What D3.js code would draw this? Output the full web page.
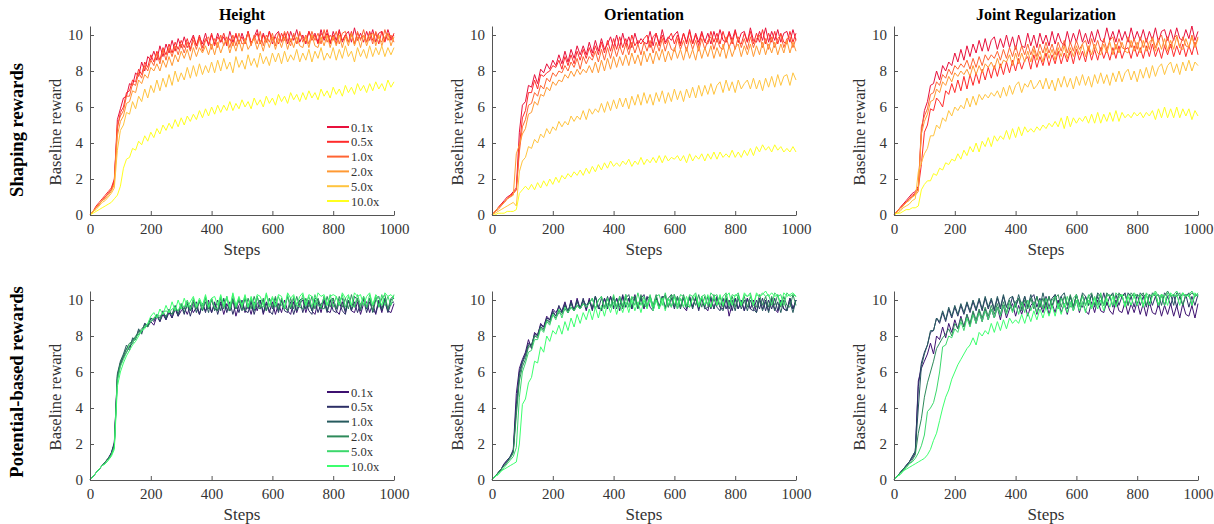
<!DOCTYPE html>
<html>
<head>
<meta charset="utf-8">
<script src="https://cdn.jsdelivr.net/npm/d3@7"></script>
<style>
	body { margin: 0; background: #fff; }
	svg text { font-family: "Liberation Serif", "Times New Roman", serif; }
	.axis path, .axis line { stroke: #555; }
	.axis text { fill: #333; font-size: 15px; font-family: "Liberation Serif", "Times New Roman", serif; }
</style>
</head>
<body>
<svg id="chart-area" width="1214" height="524"></svg>
<script>

// x values: one reading every 10 steps
let steps = d3.range(0, 1001, 10);

let scaleLabels = ["0.1x", "0.5x", "1.0x", "2.0x", "5.0x", "10.0x"];
let panelTitles = ["Height", "Orientation", "Joint Regularization"];
let rowTitles = ["Shaping rewards", "Potential-based rewards"];
let xTicks = [0, 200, 400, 600, 800, 1000];
let yTicks = [0, 2, 4, 6, 8, 10];

let shapingColors = ["#e8103c", "#ff2b2b", "#ff6433", "#ff9933", "#ffc43f", "#ffff1f"];
let potentialColors = ["#3d1070", "#2c2f66", "#265a5e", "#2e8a5a", "#3cd86c", "#3cff6e"];

// Shaping rewards, Height (0.1x ... 10.0x)
let heightShaping = [
[0,0.2,0.4,0.6,0.8,1.0,1.2,1.4,1.9,5.3,5.9,
6.5,6.6,7.3,7.2,7.9,7.7,8.5,8.0,8.8,8.6,
9.1,8.6,9.4,8.8,9.5,9.0,9.7,9.1,9.8,9.3,
9.9,9.3,9.6,10.0,9.4,9.9,9.5,10.1,9.4,10.0,
9.5,10.1,9.6,9.9,9.4,10.2,9.6,10.0,9.5,10.1,
9.6,10.2,9.5,9.9,10.3,9.5,10.1,9.6,10.2,9.5,
10.0,10.2,9.6,10.1,9.5,10.2,9.7,10.3,9.6,10.0,
9.5,10.2,9.8,10.1,9.6,10.3,9.7,10.1,9.5,10.2,
9.7,10.3,9.6,10.0,10.2,9.6,10.4,9.7,10.1,9.6,
10.2,9.7,10.3,9.6,10.1,10.2,9.7,10.3,9.8,10.0],
[0,0.2,0.5,0.7,0.9,1.1,1.3,1.5,2.0,4.8,5.7,
6.0,6.8,6.9,7.5,7.4,8.1,7.8,8.5,8.2,8.9,
8.5,9.1,8.6,9.3,8.9,9.5,9.0,9.6,9.2,9.7,
9.3,9.8,9.2,9.9,9.4,10.0,9.3,9.8,9.5,10.1,
9.4,9.9,9.6,10.1,9.5,9.8,9.4,10.1,9.6,9.9,
9.5,10.2,9.6,9.8,10.1,9.5,10.0,9.6,10.2,9.7,
9.9,9.5,10.1,9.7,10.2,9.6,10.0,9.5,10.1,9.8,
9.6,10.2,9.7,10.0,9.5,10.1,9.8,10.3,9.6,10.0,
9.5,10.2,9.7,10.0,9.6,10.2,9.5,10.1,9.8,10.0,
9.6,10.2,9.7,10.1,9.5,10.2,9.6,10.1,9.7,10.1],
[0,0.2,0.4,0.6,0.8,1.0,1.2,1.4,1.8,5.0,5.5,
5.8,6.6,6.6,7.3,7.2,7.9,7.6,8.3,8.0,8.6,
8.3,9.0,8.4,9.2,8.6,9.3,8.8,9.4,8.9,9.5,
9.0,9.6,9.1,9.7,9.2,9.8,9.1,9.7,9.9,9.2,
9.8,9.3,10.0,9.4,9.9,9.3,10.0,9.4,10.1,9.5,
9.6,10.1,9.4,10.0,9.5,10.2,9.4,10.0,9.6,10.1,
9.4,10.1,9.6,10.2,9.7,9.4,10.1,9.5,10.2,9.6,
10.0,9.5,10.2,9.7,10.1,9.5,10.3,9.6,10.0,9.7,
10.2,9.5,10.1,10.2,9.6,10.0,9.5,10.2,9.7,10.3,
9.6,10.1,9.5,10.2,9.8,9.6,10.3,9.7,10.0,9.6],
[0,0.2,0.4,0.6,0.8,0.9,1.1,1.3,1.7,4.4,5.2,
5.5,6.2,6.3,6.9,6.8,7.5,7.3,7.8,7.6,8.2,
8.0,8.4,8.0,8.6,8.2,8.8,8.3,8.9,8.5,9.1,
8.7,9.2,8.6,9.3,8.8,9.3,9.0,9.4,8.9,9.5,
8.9,9.6,9.0,9.5,9.7,9.0,9.6,9.1,9.7,9.1,
9.8,9.2,9.5,9.8,9.2,9.7,9.1,9.8,9.3,9.9,
9.2,9.8,9.3,9.9,9.2,9.8,9.3,9.9,9.4,9.3,
9.9,9.3,10.0,9.4,9.3,9.9,9.4,10.0,9.3,9.9,
9.4,10.0,9.3,9.9,9.4,10.1,9.4,9.9,9.3,10.0,
9.4,9.9,10.1,9.4,10.0,9.4,9.9,10.1,9.4,9.9],
[0,0.2,0.3,0.5,0.7,0.8,1.0,1.2,1.5,3.6,4.7,
5.0,5.7,5.6,6.3,5.9,6.6,6.3,7.0,6.5,7.2,
6.8,7.5,6.9,7.6,7.1,7.8,7.2,8.0,7.4,7.9,
7.5,8.2,7.6,8.3,7.7,8.4,7.8,8.3,7.9,8.5,
7.9,8.6,8.0,8.7,8.1,8.5,7.9,8.8,8.2,8.6,
8.1,8.9,8.3,8.7,8.2,9.0,8.4,8.8,8.3,9.0,
8.5,9.0,8.4,9.1,8.5,8.9,8.6,9.2,8.5,9.0,
8.6,9.2,8.5,9.1,8.7,9.3,8.6,9.0,8.7,9.3,
8.6,9.2,8.7,9.4,8.8,9.1,8.5,9.3,8.8,9.2,
8.7,9.4,8.8,9.3,8.9,9.4,8.8,9.3,8.9,9.3],
[0,0.1,0.2,0.3,0.4,0.5,0.6,0.7,0.9,1.1,1.6,
2.6,3.1,3.2,3.7,3.6,4.1,3.9,4.4,4.1,4.6,
4.3,4.8,4.5,5.0,4.7,5.1,4.8,5.3,4.9,5.4,
5.0,5.5,5.2,5.6,5.3,5.8,5.4,5.9,5.5,6.0,
5.6,6.1,5.7,6.1,5.8,6.3,5.8,6.2,5.9,6.4,
6.0,6.3,5.9,6.5,6.1,6.4,6.0,6.6,6.2,6.5,
6.1,6.7,6.3,6.6,6.2,6.8,6.4,6.7,6.3,6.8,
6.4,6.9,6.5,6.8,6.4,7.0,6.6,6.9,6.5,7.1,
6.7,7.0,6.6,7.2,6.8,7.1,6.7,7.3,6.9,7.2,
6.8,7.3,6.9,7.4,7.0,7.3,6.9,7.5,7.1,7.4]
];

// Shaping rewards, Orientation
let orientationShaping = [
[0,0.2,0.4,0.6,0.8,1.0,1.1,1.3,1.5,4.6,6.1,
6.3,7.2,7.1,7.8,7.3,8.1,7.9,8.4,8.1,8.6,
8.3,8.9,8.4,9.1,8.5,9.2,8.7,9.4,8.9,9.4,
8.9,9.6,9.0,9.7,9.1,9.8,9.2,9.5,9.9,9.3,
10.0,9.3,10.1,9.4,9.9,9.3,10.1,9.5,9.8,9.6,
9.5,10.2,9.4,10.1,9.5,10.3,9.6,9.9,9.7,10.0,
10.2,9.5,10.1,9.6,10.3,9.5,10.1,9.6,10.2,9.6,
10.1,9.5,10.2,9.6,10.3,9.7,9.6,10.2,9.7,10.3,
9.6,10.1,10.2,9.6,10.4,9.7,9.6,10.2,9.7,10.4,
9.6,10.2,9.7,10.3,9.6,10.1,10.2,9.6,10.3,9.7],
[0,0.2,0.4,0.6,0.7,0.9,1.1,1.2,1.4,3.8,5.4,
5.8,6.8,6.8,7.5,7.0,7.8,7.7,7.9,8.0,8.3,
8.2,8.6,8.1,8.8,8.3,8.9,8.4,9.1,8.6,9.2,
8.7,9.3,8.8,9.4,8.9,9.6,9.0,9.7,9.1,9.8,
9.2,9.9,9.3,9.8,9.2,10.0,9.4,9.7,9.5,9.8,
10.0,9.3,9.9,10.1,9.4,10.0,9.5,9.8,10.1,9.5,
10.0,9.4,10.1,9.5,10.2,9.5,10.0,9.4,10.1,9.6,
9.5,10.2,9.6,10.1,9.5,10.2,9.6,10.1,9.5,10.2,
9.6,9.5,10.1,9.6,10.2,9.5,10.1,9.6,10.3,9.5,
10.1,9.6,10.2,9.5,10.1,9.6,9.5,10.2,9.6,10.1],
[0,0.2,0.3,0.5,0.7,0.9,1.0,1.2,1.4,3.5,4.9,
5.3,6.1,6.2,6.8,6.6,7.2,7.0,7.6,7.4,7.9,
7.7,8.0,7.9,8.3,8.0,8.5,8.2,8.7,8.1,8.8,
8.4,8.8,8.6,9.1,8.5,9.2,8.6,9.3,8.7,9.4,
8.8,9.4,8.9,9.5,8.9,9.6,9.0,9.5,8.9,9.6,
9.1,9.7,9.0,9.6,9.1,9.8,9.1,9.7,9.2,9.1,
9.8,9.2,9.7,9.1,9.8,9.2,9.7,9.1,9.8,9.2,
9.7,9.9,9.2,9.8,9.3,9.2,9.9,9.3,9.8,9.2,
9.9,9.3,9.8,9.2,9.9,9.3,9.8,10.0,9.3,9.8,
9.2,9.9,9.3,9.8,10.0,9.3,9.8,9.9,9.3,9.8],
[0,0.2,0.4,0.5,0.7,0.9,1.0,1.1,3.4,3.9,4.5,
4.8,5.6,5.7,6.3,6.1,6.7,6.6,7.1,6.9,7.4,
7.2,7.5,7.4,7.8,7.6,8.0,7.7,8.1,7.8,8.1,
7.9,8.3,7.9,8.5,7.9,8.6,8.0,8.7,8.1,8.8,
8.2,8.8,8.3,8.9,8.3,9.0,8.4,8.9,8.3,9.1,
8.5,9.0,8.4,9.1,8.6,9.2,8.5,9.1,8.6,9.3,
8.7,9.2,8.6,9.3,8.7,9.2,8.6,9.4,8.7,9.3,
8.8,9.4,8.7,9.3,8.8,9.5,8.7,9.4,8.8,9.3,
9.5,8.8,9.4,8.9,9.5,8.8,9.4,8.9,9.6,8.9,
9.5,9.0,9.6,8.9,9.5,9.0,9.7,9.0,9.6,9.1],
[0,0.1,0.2,0.3,0.4,0.5,0.6,0.7,0.5,2.4,3.0,
3.2,3.8,3.7,4.2,4.0,4.5,4.3,4.8,4.5,4.9,
4.7,5.2,4.9,5.2,5.0,5.5,5.2,5.5,5.3,5.8,
5.3,5.9,5.6,5.9,5.7,6.2,5.7,6.3,5.8,6.4,
5.9,6.5,6.0,6.5,5.9,6.6,6.1,6.7,6.1,6.8,
6.2,6.7,6.1,6.8,6.3,6.9,6.2,6.8,6.3,7.0,
6.4,6.9,6.3,7.0,6.5,7.1,6.5,7.2,6.6,7.2,
6.7,7.3,6.7,7.2,7.4,6.8,7.5,6.9,7.4,6.8,
7.5,7.0,7.3,7.5,7.0,7.6,7.0,7.5,6.9,7.6,
7.1,7.7,7.1,7.8,7.2,7.7,7.8,7.2,7.9,7.5],
[0,0.0,0.1,0.1,0.1,0.2,0.2,0.2,0.3,1.2,1.4,
1.6,1.4,1.7,1.4,1.8,1.5,1.9,1.6,2.0,1.7,
2.1,1.8,2.2,2.0,2.3,2.1,2.4,2.2,2.5,2.2,
2.6,2.3,2.7,2.4,2.8,2.5,2.9,2.6,3.0,2.7,
2.9,2.7,3.0,2.8,3.1,2.7,3.0,2.8,3.2,2.8,
3.1,2.9,3.2,2.9,3.3,2.9,3.3,3.0,3.2,3.1,
3.3,3.0,3.3,2.9,3.4,3.0,3.3,3.1,3.4,3.0,
3.4,3.1,3.5,3.1,3.5,3.2,3.4,3.2,3.6,3.2,
3.5,3.2,3.6,3.3,3.7,3.3,3.8,3.5,3.9,3.6,
3.8,3.5,3.9,3.6,3.8,3.5,3.7,3.5,3.8,3.5]
];

// Shaping rewards, Joint Regularization
let jointShaping = [
[0,0.2,0.4,0.6,0.8,1.0,1.2,1.3,1.6,4.6,5.8,
6.3,7.2,7.3,8.0,7.5,8.3,8.0,8.5,8.3,9.0,
8.5,9.2,8.6,9.4,8.8,9.5,9.0,9.7,9.1,9.8,
9.1,9.7,9.9,9.2,9.8,9.3,10.0,9.3,9.9,9.2,
10.0,9.4,9.3,10.1,9.4,10.0,9.3,10.1,9.5,10.0,
9.4,10.2,9.5,10.1,9.6,9.4,10.2,9.5,10.1,9.6,
10.3,9.6,10.1,9.5,10.2,9.6,10.3,9.7,9.6,10.4,
9.7,10.2,9.6,10.3,9.7,10.2,9.6,10.4,9.7,10.2,
9.7,10.3,9.6,10.2,9.7,10.4,9.6,10.2,10.3,9.7,
10.3,9.7,10.4,9.8,9.7,10.3,9.8,10.5,9.7,10.2],
[0,0.2,0.4,0.6,0.7,0.9,1.1,1.2,1.5,2.8,4.6,
5.0,5.9,5.8,6.5,6.3,6.0,6.9,6.7,7.3,6.8,
7.5,6.9,7.7,7.0,7.8,7.2,7.9,7.3,8.1,7.5,
8.2,7.6,8.3,7.7,8.4,7.8,8.5,7.9,8.6,8.0,
8.7,8.1,8.6,8.8,8.1,8.9,8.2,8.8,8.3,9.0,
8.3,8.9,8.4,9.1,8.4,9.0,8.5,9.1,8.4,9.2,
8.6,9.1,8.5,9.3,8.6,9.2,8.6,9.3,8.7,9.2,
8.6,9.3,8.7,9.4,8.7,9.2,9.3,8.7,9.4,8.8,
9.3,8.7,9.4,8.8,9.5,8.8,9.3,8.7,9.4,8.9,
9.5,8.8,9.4,8.9,9.5,8.8,9.4,8.9,9.6,8.9],
[0,0.2,0.4,0.5,0.7,0.9,1.0,1.2,1.4,4.9,5.5,
5.9,6.7,6.8,7.4,7.2,7.8,7.6,8.1,7.8,8.3,
8.1,8.4,8.2,8.6,8.1,8.7,8.2,8.8,8.3,8.9,
8.6,8.9,8.7,9.1,8.6,9.2,8.7,9.3,8.8,9.4,
8.8,9.4,8.9,9.5,8.9,9.4,8.8,9.5,9.0,9.6,
9.0,9.5,8.9,9.6,9.1,9.7,9.0,9.6,9.1,9.7,
9.2,9.5,9.7,9.1,9.8,9.2,9.7,9.1,9.8,9.2,
9.7,9.9,9.2,9.8,9.3,9.2,9.9,9.3,9.8,9.2,
9.9,9.3,9.8,9.2,9.9,9.3,9.8,10.0,9.3,9.9,
9.3,9.8,10.0,9.3,9.9,9.4,9.3,10.0,9.4,9.9],
[0,0.2,0.3,0.5,0.7,0.8,1.0,1.1,1.3,4.5,5.2,
5.6,6.3,6.4,7.0,6.8,7.4,7.2,7.7,7.4,7.9,
7.7,8.0,7.8,8.1,7.7,8.3,7.8,8.3,7.9,8.4,
8.2,8.5,8.1,8.7,8.2,8.6,8.5,8.9,8.3,9.0,
8.4,9.0,8.5,9.1,8.5,9.2,8.6,9.1,8.5,9.3,
8.7,9.2,8.6,9.3,8.8,9.4,8.7,9.3,8.8,9.4,
8.9,9.5,8.8,9.4,8.9,9.5,9.0,8.9,9.5,9.0,
9.6,8.9,9.5,9.0,9.6,9.1,9.0,9.7,9.1,9.6,
9.0,9.7,9.1,9.6,9.8,9.1,9.7,9.2,9.8,9.1,
9.7,9.2,9.9,9.3,9.2,9.8,9.3,9.9,9.3,9.8],
[0,0.1,0.2,0.4,0.5,0.6,0.8,0.9,2.4,2.9,3.4,
3.7,4.4,4.4,5.0,4.8,5.4,5.2,5.8,5.5,6.0,
5.8,6.1,5.9,6.5,6.0,6.6,6.1,6.7,6.4,6.7,
6.5,6.8,6.6,6.9,6.5,7.1,6.6,7.2,6.7,7.2,
7.4,6.8,7.3,7.1,7.5,7.0,7.2,7.5,7.0,7.6,
7.0,7.5,6.9,7.6,7.1,7.7,7.1,7.6,7.0,7.7,
7.2,7.8,7.2,7.7,7.1,7.8,7.3,7.9,7.3,7.8,
7.2,7.9,7.4,8.0,7.4,7.9,8.1,7.5,8.0,7.4,
8.1,7.6,8.2,7.6,8.3,7.7,8.2,8.4,7.8,8.3,
8.5,7.9,8.4,7.8,8.5,8.0,8.6,8.0,8.5,8.3],
[0,0.1,0.1,0.2,0.3,0.3,0.4,0.4,0.5,1.4,1.7,
1.9,1.9,2.3,2.2,2.6,2.5,2.9,2.8,3.1,3.0,
3.4,3.1,3.6,3.3,3.8,3.5,4.0,3.5,4.1,3.8,
4.3,3.8,4.4,4.1,4.4,4.2,4.7,4.2,4.8,4.3,
4.9,4.4,4.9,4.6,4.8,4.6,4.9,4.7,5.0,4.8,
5.1,4.9,5.2,4.9,5.4,4.8,5.5,4.9,5.4,5.1,
5.4,5.2,5.5,5.1,5.6,5.1,5.7,5.1,5.6,5.2,
5.7,5.2,5.8,5.2,5.7,5.4,5.6,5.4,5.7,5.5,
5.7,5.4,5.7,5.5,5.8,5.3,5.9,5.4,6.0,5.4,
5.9,5.4,6.0,5.4,5.9,5.5,5.9,5.3,5.8,5.5]
];

// Potential-based rewards, Height
let heightPotential = [
[0,0.2,0.4,0.6,0.8,1.0,1.2,1.5,2.0,5.6,6.4,
6.8,7.1,7.4,7.6,7.9,8.1,8.3,8.5,8.6,8.8,
8.6,9.1,8.8,9.2,8.9,9.3,9.0,9.5,9.1,9.4,
9.6,9.2,9.7,9.3,9.6,9.2,9.8,9.4,9.8,9.3,
9.8,9.4,9.9,9.2,9.8,9.4,10.0,9.1,9.7,9.9,
9.3,9.8,9.2,9.9,9.4,10.0,9.2,9.8,9.3,9.9,
9.2,9.8,9.3,10.0,9.4,9.2,9.9,9.3,9.8,10.0,
9.3,9.9,9.4,9.2,9.9,9.3,10.0,9.4,9.3,9.9,
9.4,9.2,9.9,9.3,10.0,9.4,9.3,9.9,9.2,9.8,
9.9,9.3,9.8,9.2,9.9,9.3,10.0,9.4,9.3,9.8],
[0,0.2,0.4,0.6,0.8,1.0,1.2,1.5,2.1,5.8,6.5,
6.9,7.3,7.4,7.8,7.9,8.3,8.2,8.7,8.5,9.0,
8.8,9.2,8.8,9.4,8.9,9.5,9.0,9.6,9.1,9.7,
9.2,9.8,9.1,9.7,9.9,9.2,9.8,9.3,10.0,9.3,
9.9,9.2,9.8,10.0,9.3,9.9,9.2,9.8,9.3,10.0,
9.4,9.3,9.9,9.2,9.8,10.0,9.3,9.9,9.4,9.2,
9.9,9.3,10.0,9.4,9.3,9.9,9.2,9.8,10.0,9.3,
9.9,9.4,9.2,10.0,9.3,9.8,9.9,9.3,10.0,9.4,
9.3,9.9,9.4,9.2,10.0,9.4,9.9,9.3,9.8,10.0,
9.3,9.9,9.4,9.3,10.0,9.4,9.9,9.3,9.8,9.9],
[0,0.2,0.4,0.6,0.8,1.0,1.2,1.4,2.0,5.9,6.6,
7.0,7.5,7.2,7.9,7.8,8.4,8.1,8.7,8.6,9.0,
8.9,9.1,9.0,9.3,9.0,9.4,9.2,9.7,9.2,9.8,
9.3,9.7,9.4,9.9,9.3,10.0,9.4,9.9,9.3,10.1,
9.4,10.0,9.4,10.1,9.5,9.4,10.1,9.5,10.0,9.4,
10.1,9.5,10.0,9.4,10.2,9.5,10.0,9.4,10.1,9.5,
10.1,9.4,10.0,9.5,10.2,9.5,10.1,9.4,10.0,10.1,
9.5,10.0,9.4,10.1,10.0,9.5,10.2,9.4,10.0,10.1,
9.5,10.0,10.1,9.4,10.0,9.5,10.2,10.0,9.4,10.1,
9.5,10.1,9.3,10.0,10.2,9.5,10.1,9.4,10.0,10.1],
[0,0.2,0.4,0.6,0.8,1.0,1.2,1.4,1.9,5.7,6.5,
6.9,7.3,7.6,7.7,8.0,8.2,8.4,8.6,8.5,8.8,
9.0,9.1,8.9,9.3,9.1,9.4,9.2,9.5,9.4,9.6,
9.5,9.9,9.4,10.0,9.5,9.9,9.4,10.1,9.5,10.0,
9.5,9.4,10.1,9.5,10.2,9.4,10.0,9.5,10.1,9.6,
9.4,10.1,9.5,10.2,9.6,9.5,10.1,9.4,10.1,9.6,
10.2,9.5,10.1,9.6,9.4,10.1,9.5,10.2,9.6,9.5,
10.1,9.6,10.2,9.5,10.1,9.6,9.5,10.2,9.6,10.1,
9.5,10.2,9.6,10.1,9.5,10.3,9.6,10.1,9.5,10.2,
9.6,10.1,9.4,10.2,9.6,10.1,10.3,9.5,10.1,10.2],
[0,0.2,0.4,0.6,0.8,0.9,1.1,1.4,1.8,5.5,6.3,
6.7,7.1,7.5,7.6,7.9,8.1,8.3,8.5,8.7,8.8,
9.0,9.2,9.1,9.3,9.4,9.3,9.5,9.6,9.4,9.8,
9.6,10.0,9.5,10.1,9.6,10.0,9.5,10.2,9.6,10.1,
9.6,9.5,10.2,9.6,10.1,9.5,10.3,9.6,10.1,9.6,
10.2,9.6,10.1,9.5,10.2,9.7,9.6,10.3,9.6,10.1,
9.6,10.2,9.7,9.5,10.3,9.6,10.2,9.7,9.6,10.3,
9.7,10.2,9.6,10.3,9.7,9.6,10.2,9.7,10.3,9.6,
10.2,9.7,10.3,9.6,10.2,9.7,9.6,10.3,9.7,10.2,
9.6,10.3,9.7,10.2,9.6,10.3,9.7,10.2,9.7,10.3],
[0,0.2,0.4,0.6,0.8,0.9,1.1,1.3,1.7,5.2,6.0,
6.5,6.9,7.2,7.5,7.7,8.0,8.3,8.4,8.7,9.1,
9.3,9.0,9.5,9.2,9.7,9.3,9.9,9.4,10.0,9.5,
10.1,9.6,9.9,10.2,9.6,10.1,9.7,10.3,9.6,10.1,
10.2,9.7,10.3,9.7,10.2,9.6,10.4,9.7,10.2,9.7,
10.3,9.6,10.2,9.7,10.3,10.2,9.7,10.4,9.7,10.2,
9.7,10.3,10.2,9.6,10.4,10.1,10.3,9.7,10.2,10.4,
9.7,10.3,10.2,9.7,10.4,10.2,10.3,9.7,10.2,10.3,
10.2,9.7,10.4,10.1,10.3,9.7,10.4,10.2,10.3,9.7,
10.2,10.4,9.7,10.3,10.1,9.7,10.4,10.2,10.3,10.1]
];

// Potential-based rewards, Orientation
let orientationPotential = [
[0,0.2,0.4,0.6,0.9,1.1,1.3,1.7,4.8,6.2,6.7,
7.1,7.8,7.3,8.2,8.0,8.7,8.5,9.1,8.9,9.5,
9.3,9.6,9.4,9.9,9.3,10.0,9.4,10.1,9.5,10.0,
9.4,10.1,9.5,10.2,9.6,9.4,10.1,9.5,10.2,9.6,
10.1,9.4,10.2,9.6,10.1,9.5,10.3,9.6,10.1,9.5,
10.2,9.6,9.4,10.1,9.6,10.2,9.5,10.1,9.6,10.3,
9.5,10.1,9.6,9.4,10.2,9.6,10.1,9.5,10.2,9.6,
9.4,10.1,9.5,10.2,9.6,9.5,10.1,9.1,9.8,10.1,
9.5,10.0,9.4,10.1,9.5,10.0,9.3,10.1,9.5,10.0,
9.4,10.1,9.5,9.3,10.0,9.5,9.4,10.1,9.5,10.0],
[0,0.2,0.4,0.6,0.9,1.1,1.3,1.6,4.2,6.0,6.6,
7.0,7.6,7.5,8.1,8.1,8.6,8.5,9.0,8.9,9.4,
9.1,9.7,9.3,9.8,9.3,9.9,9.4,10.0,9.5,10.1,
9.5,10.0,9.4,10.2,9.6,9.5,10.1,9.6,10.2,9.5,
10.1,9.6,10.3,9.6,10.1,9.5,10.2,9.6,10.1,10.3,
9.6,10.1,9.5,10.2,9.6,10.1,10.3,9.6,10.1,9.5,
10.2,9.6,10.1,9.5,10.2,9.6,10.1,9.4,10.1,9.6,
10.2,9.5,10.1,9.6,9.4,10.1,9.5,10.0,9.4,10.1,
9.5,10.0,9.4,10.1,9.5,9.4,10.0,9.5,10.1,9.4,
10.0,9.5,10.1,9.4,10.0,9.5,9.4,10.1,9.5,10.0],
[0,0.2,0.4,0.6,0.8,1.0,1.3,1.6,3.9,5.8,6.5,
6.9,7.5,7.5,8.0,8.0,8.5,8.4,8.9,8.8,9.3,
9.1,9.4,9.3,9.7,9.4,9.8,9.4,9.9,9.5,10.0,
9.7,9.9,9.6,10.2,9.5,10.1,9.6,10.2,9.6,10.1,
9.5,10.2,9.6,10.1,10.3,9.6,10.1,9.5,10.2,9.6,
10.1,10.2,9.6,10.1,9.5,10.2,9.6,10.1,10.3,9.6,
10.1,9.5,10.2,9.6,10.1,9.5,10.2,9.6,10.1,9.5,
9.6,10.2,9.5,10.1,9.6,9.4,10.1,9.5,10.0,9.4,
10.1,9.5,10.0,9.4,10.0,9.5,9.3,10.0,9.4,9.9,
9.3,10.0,9.4,9.9,9.3,10.0,9.4,9.9,9.3,10.0],
[0,0.2,0.4,0.6,0.8,1.0,1.2,1.5,3.6,5.5,6.3,
6.7,7.4,7.4,8.0,7.9,8.5,8.3,8.9,8.7,9.2,
9.0,9.3,9.2,9.5,9.3,9.6,9.4,9.7,9.5,9.8,
9.6,9.8,10.1,9.5,10.0,10.2,9.5,10.1,9.6,10.2,
9.6,10.1,9.5,10.3,9.6,10.1,10.2,9.6,10.3,9.7,
9.6,10.2,9.7,10.3,9.6,10.1,10.2,9.6,10.3,9.7,
10.2,9.6,10.3,9.7,9.6,10.2,9.7,10.3,9.6,10.2,
9.7,9.6,10.3,9.7,10.2,9.6,10.3,9.7,10.2,9.6,
10.3,9.7,10.2,9.6,10.2,9.7,9.6,10.3,9.7,10.2,
9.6,10.2,9.7,10.3,9.6,10.2,9.7,9.6,10.3,9.7],
[0,0.2,0.3,0.5,0.7,0.9,1.1,1.3,1.8,4.6,6.0,
6.5,7.1,7.2,7.8,7.8,8.4,8.2,8.8,8.6,9.2,
8.9,9.5,9.0,9.6,9.3,9.6,9.4,9.7,9.5,9.8,
9.6,9.8,10.1,9.5,10.0,10.2,9.5,10.1,9.6,10.3,
9.6,10.2,9.7,10.3,9.6,10.2,9.7,10.4,9.7,10.2,
9.7,10.3,9.6,10.2,10.3,9.7,10.4,9.7,10.2,10.3,
9.7,10.3,10.2,9.6,10.3,10.2,10.4,9.7,10.2,10.3,
9.7,10.4,10.2,10.3,9.7,10.2,10.4,9.7,10.3,10.2,
10.4,9.7,10.3,10.2,10.4,9.7,10.3,10.2,10.4,10.2,
10.3,9.7,10.4,10.2,10.3,9.7,10.4,10.2,10.3,10.2],
[0,0.2,0.3,0.5,0.6,0.7,0.8,0.9,1.0,2.0,4.2,
4.5,5.4,5.7,6.6,6.5,7.4,7.1,8.0,7.7,8.3,
8.1,8.6,8.1,8.8,8.3,9.0,8.5,9.2,8.7,9.3,
8.9,9.5,8.9,9.6,9.0,9.7,9.1,9.8,9.3,9.9,
9.2,9.8,9.3,9.9,9.3,10.0,9.4,9.9,9.3,10.0,
9.5,10.1,9.4,10.0,9.5,10.1,9.4,10.1,9.6,10.2,
9.5,10.1,9.6,10.2,9.6,10.1,10.3,9.6,10.2,9.7,
10.3,9.6,10.2,9.7,10.3,9.7,10.2,10.4,9.7,10.3,
10.2,9.7,10.4,10.2,10.3,9.7,10.4,10.2,10.3,10.5,
10.2,10.4,10.2,10.3,9.7,10.4,10.2,10.3,10.4,10.2]
];

// Potential-based rewards, Joint Regularization
let jointPotential = [
[0,0.2,0.4,0.6,0.8,1.0,1.2,1.5,5.5,6.2,6.6,
7.0,7.6,7.0,8.0,7.8,8.5,7.9,8.7,8.2,8.9,
8.4,9.1,8.5,9.2,8.6,9.3,8.7,9.4,8.8,9.5,
8.9,9.5,9.0,9.6,8.9,9.7,9.0,9.5,9.8,9.1,
9.7,9.2,9.8,9.1,9.7,9.9,9.2,9.8,9.3,9.9,
9.2,9.8,9.3,10.0,9.3,9.8,9.2,9.9,9.4,10.0,
9.3,9.9,9.4,9.2,9.9,9.3,10.0,9.4,9.3,9.9,
9.4,9.2,10.0,9.4,9.3,9.9,9.2,9.8,9.3,9.9,
9.2,9.8,9.1,9.9,9.3,9.2,9.8,9.1,9.7,9.2,
9.8,9.1,9.7,9.0,9.8,9.2,9.1,9.7,9.0,9.8],
[0,0.2,0.4,0.6,0.8,1.0,1.3,1.6,5.2,6.5,7.1,
7.5,8.2,8.3,9.0,8.7,9.3,8.8,9.5,9.0,9.6,
9.1,9.7,9.2,9.8,9.3,9.9,9.4,10.0,9.4,10.1,
9.5,10.0,9.4,10.1,9.5,10.2,9.6,9.5,10.2,9.6,
10.1,9.5,10.2,9.6,10.1,10.3,9.6,10.1,9.5,10.2,
9.6,10.1,10.3,9.6,10.2,9.7,9.5,10.2,9.6,10.3,
9.7,9.6,10.2,9.7,10.3,9.6,10.2,9.7,10.4,9.7,
10.2,9.6,10.3,9.7,10.2,10.4,9.7,10.2,9.6,10.3,
9.7,10.2,9.6,10.3,9.7,10.2,9.6,10.3,9.7,10.2,
9.7,10.3,9.6,10.2,9.7,10.3,9.6,10.2,9.7,10.3],
[0,0.2,0.4,0.6,0.8,1.0,1.3,1.6,4.0,6.3,7.0,
7.5,8.3,8.3,9.0,8.8,9.4,8.9,9.6,9.1,9.7,
9.2,9.8,9.3,9.9,9.4,10.0,9.5,10.1,9.5,10.2,
9.6,10.1,9.5,10.2,9.6,10.3,9.6,10.1,10.2,9.6,
10.3,9.7,10.2,9.6,10.3,9.7,10.2,9.6,10.4,9.7,
10.2,9.6,10.3,9.7,10.2,10.4,9.7,10.2,9.6,10.3,
9.7,10.4,10.2,9.7,10.3,9.7,10.4,10.2,9.7,10.3,
10.2,10.4,9.7,10.3,10.2,9.7,10.4,10.2,10.3,9.7,
10.4,10.2,10.3,9.7,10.4,10.2,10.3,9.7,10.4,10.2,
10.3,9.7,10.4,10.2,10.3,10.2,10.4,9.7,10.3,10.2],
[0,0.2,0.4,0.6,0.7,0.9,1.1,1.4,2.6,3.4,4.6,
5.4,6.0,6.6,7.3,7.6,7.9,8.1,8.4,8.0,8.7,
8.4,9.0,8.5,9.2,8.7,9.4,8.9,9.5,9.0,9.6,
9.1,9.7,9.2,9.8,9.2,9.9,9.3,10.0,9.4,9.9,
10.1,9.4,10.0,9.5,10.1,9.5,10.2,9.6,10.1,9.5,
10.2,9.6,10.1,10.3,9.6,10.2,9.7,10.3,9.6,10.2,
9.7,10.3,9.7,10.2,10.4,9.7,10.3,10.2,9.7,10.4,
10.2,10.3,9.7,10.4,10.2,10.3,9.7,10.4,10.2,10.3,
10.2,10.4,9.7,10.3,10.2,10.4,9.7,10.3,10.2,10.5,
10.2,10.3,10.2,10.4,9.7,10.3,10.2,10.4,10.2,10.3],
[0,0.2,0.3,0.5,0.7,0.9,1.0,1.2,1.5,1.9,2.5,
3.8,4.0,4.3,5.0,6.0,7.4,7.5,8.0,7.9,8.4,
8.2,8.8,8.3,9.0,8.5,9.2,8.7,9.3,8.8,9.4,
8.9,9.5,9.0,9.6,9.1,9.7,9.2,9.8,9.3,9.8,
9.2,9.9,9.3,10.0,9.4,9.9,9.3,10.0,9.5,10.1,
9.5,10.0,10.2,9.5,10.1,9.6,10.2,9.6,10.1,10.3,
9.6,10.2,9.7,10.3,9.6,10.2,9.7,10.4,9.7,10.2,
10.3,9.7,10.4,10.2,10.3,9.7,10.3,10.2,10.4,10.2,
10.3,9.7,10.4,10.2,10.3,10.5,10.2,10.3,9.7,10.4,
10.2,10.3,10.5,10.2,10.4,10.2,10.3,10.5,10.2,10.4],
[0,0.2,0.3,0.5,0.6,0.7,0.8,0.9,1.0,1.1,1.2,
1.4,1.7,2.2,2.6,3.3,4.0,4.6,5.0,5.6,6.0,
6.4,6.7,7.0,7.3,7.5,7.9,7.5,8.2,8.0,8.3,
8.1,8.7,8.2,8.8,8.3,8.9,8.4,9.0,8.7,8.9,
8.7,9.2,8.7,9.3,8.8,9.4,8.9,9.5,9.0,9.6,
9.1,9.7,9.1,9.8,9.2,9.8,9.3,9.9,9.4,10.0,
9.4,9.9,9.3,10.0,9.5,10.1,9.5,10.0,9.4,10.1,
9.6,10.2,9.6,10.1,10.3,9.6,10.2,9.7,10.3,9.7,
10.2,9.6,10.3,9.7,10.2,10.4,9.7,10.3,10.2,9.7,
10.4,10.2,10.3,9.7,10.4,10.2,10.3,9.7,10.4,10.2]
];

let panels = [heightShaping, orientationShaping, jointShaping,
	heightPotential, orientationPotential, jointPotential];

let serif = "Liberation Serif, Times New Roman, serif";
let svg = d3.select("#chart-area");

// axis frames (pixel layout)
let colLeft = [90, 492, 894],
	axisWidth = 304;
let rowFrame = [{bottom: 215, top: 26}, {bottom: 480, top: 291}];

panels.forEach((series, k) => {
	let col = k % 3,
		row = Math.floor(k / 3);
	let colors = row === 0 ? shapingColors : potentialColors;

	series.forEach((s, i) => {
		if (s.length !== steps.length) throw new Error("panel " + k + " series " + i + " has " + s.length);
	});

	let x = d3.scaleLinear()
		.domain([0, 1000])
		.range([colLeft[col], colLeft[col] + axisWidth]);

	let y = d3.scaleLinear()
		.domain([0, 10.5])
		.range([rowFrame[row].bottom, rowFrame[row].top]);

	let line = d3.line()
		.x((d, i) => x(steps[i]))
		.y(d => y(d));

	let g = svg.append("g");

	g.selectAll("path.curve")
		.data(series)
		.enter()
		.append("path")
		.attr("class", "curve")
		.attr("d", line)
		.attr("fill", "none")
		.attr("stroke", (d, i) => colors[i])
		.attr("stroke-width", 1)
		.attr("stroke-linejoin", "round");

	g.append("g")
		.attr("class", "axis")
		.attr("transform", "translate(0," + rowFrame[row].bottom + ")")
		.call(d3.axisBottom(x).tickValues(xTicks).tickFormat(d3.format("d"))
			.tickSizeInner(-4).tickSizeOuter(0).tickPadding(8))
		.attr("font-family", serif)
		.attr("font-size", 15);

	g.append("g")
		.attr("class", "axis")
		.attr("transform", "translate(" + colLeft[col] + ",0)")
		.call(d3.axisLeft(y).tickValues(yTicks).tickSizeInner(-4).tickSizeOuter(0).tickPadding(7))
		.attr("font-family", serif)
		.attr("font-size", 15);

	g.append("text")
		.attr("x", colLeft[col] + axisWidth / 2)
		.attr("y", rowFrame[row].bottom + 40)
		.attr("text-anchor", "middle")
		.attr("font-family", serif)
		.attr("font-size", 17)
		.attr("fill", "#333")
		.text("Steps");

	g.append("text")
		.attr("transform", "translate(" + (colLeft[col] - 29) + "," + (rowFrame[row].bottom - 83) + ") rotate(-90)")
		.attr("text-anchor", "middle")
		.attr("font-family", serif)
		.attr("font-size", 16.5)
		.attr("fill", "#333")
		.text("Baseline reward");

	if (row === 0) {
		svg.append("text")
			.attr("x", colLeft[col] + axisWidth / 2)
			.attr("y", 20)
			.attr("text-anchor", "middle")
			.attr("font-family", serif)
			.attr("font-size", 16)
			.attr("font-weight", "bold")
			.text(panelTitles[col]);
	}

	// legend only in the first column
	if (col === 0) {
		let legend = g.append("g")
			.attr("transform", "translate(327," + (rowFrame[row].bottom - 88) + ")");
		scaleLabels.forEach((lab, i) => {
			legend.append("line")
				.attr("x1", 0).attr("x2", 22)
				.attr("y1", i * 14.8).attr("y2", i * 14.8)
				.attr("stroke", colors[i])
				.attr("stroke-width", 2);
			legend.append("text")
				.attr("x", 24)
				.attr("y", i * 14.8 + 4.5)
				.attr("font-family", serif)
				.attr("font-size", 12.5)
				.attr("fill", "#333")
				.text(lab);
		});
	}
});

// row titles
rowTitles.forEach((t, r) => {
	svg.append("text")
		.attr("transform", "translate(23," + (r === 0 ? 130 : 382) + ") rotate(-90)")
		.attr("text-anchor", "middle")
		.attr("font-family", serif)
		.attr("font-size", 18.5)
		.attr("font-weight", "bold")
		.text(t);
});

</script>
</body>
</html>
